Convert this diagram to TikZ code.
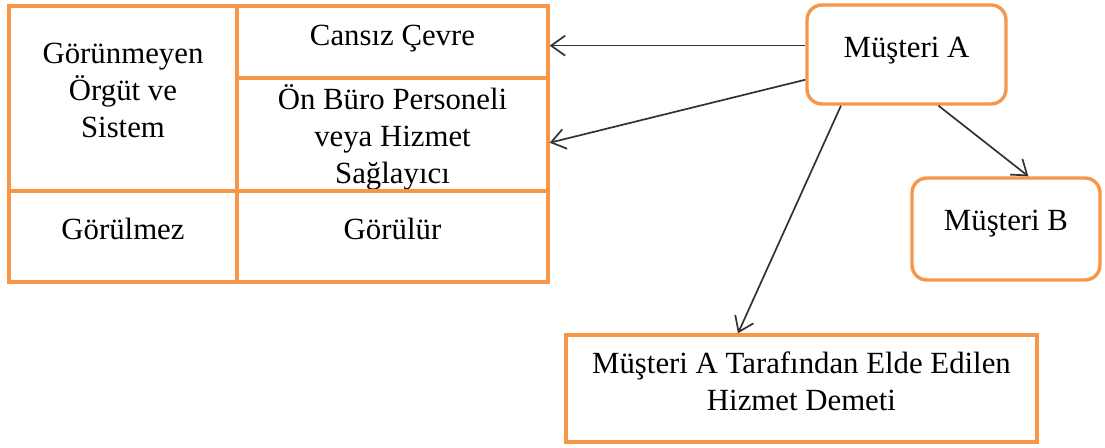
\documentclass[tikz,border=0pt]{standalone}
\usepackage{fontspec}
\setmainfont{Liberation Serif}
\usetikzlibrary{arrows.meta,positioning}
\definecolor{boxorange}{RGB}{247,150,70}
\definecolor{arrgray}{RGB}{50,50,50}

\begin{document}
\begin{tikzpicture}[x=0.5pt,y=-0.5pt,
  cell/.style={draw=boxorange,line width=1.7pt,align=center,inner sep=0pt,font=\fontsize{15.4}{18.5}\selectfont},
  rbox/.style={cell,rounded corners=7.5pt},
  arr/.style={-{Straight Barb[length=7pt,width=10pt]},draw=arrgray,line width=0.85pt}]
\useasboundingbox (0,0) rectangle (1105,448);
% left table
\node[cell,minimum width=114pt,minimum height=92.5pt,text depth=8pt] (gorunmeyen) at (123,98.5) {Görünmeyen\\Örgüt ve\\Sistem};
\node[cell,minimum width=155.5pt,minimum height=36pt,text depth=7pt] (cansiz) at (392.5,42) {Cansız Çevre};
\node[cell,minimum width=155.5pt,minimum height=56.5pt,text depth=0pt] (onburo) at (392.5,134.5) {Ön Büro Personeli\\veya Hizmet\\Sağlayıcı};
\node[cell,minimum width=114pt,minimum height=45.5pt,text depth=8pt] (gorulmez) at (123,236.5) {Görülmez};
\node[cell,minimum width=155.5pt,minimum height=45.5pt,text depth=8pt] (gorulur) at (392.5,236.5) {Görülür};
% customers
\node[rbox,minimum width=99.5pt,minimum height=49.5pt,text depth=7pt] (musA) at (906.5,54.5) {Müşteri A};
\node[rbox,minimum width=94pt,minimum height=51pt,text depth=9pt] (musB) at (1006,229) {Müşteri B};
\node[cell,minimum width=235.5pt,minimum height=53.5pt,text depth=7pt] (demeti) at (801.5,388.5) {Müşteri A Tarafından Elde Edilen\\Hizmet Demeti};
\draw[arr] (musA.175) -- (cansiz.east |- musA.175);
\draw[arr] (musA.194) -- (onburo.-3);
\draw[arr] (musA.218) -- (demeti.139);
\draw[arr] (musA.302) -- (musB.67);
\end{tikzpicture}
\end{document}
